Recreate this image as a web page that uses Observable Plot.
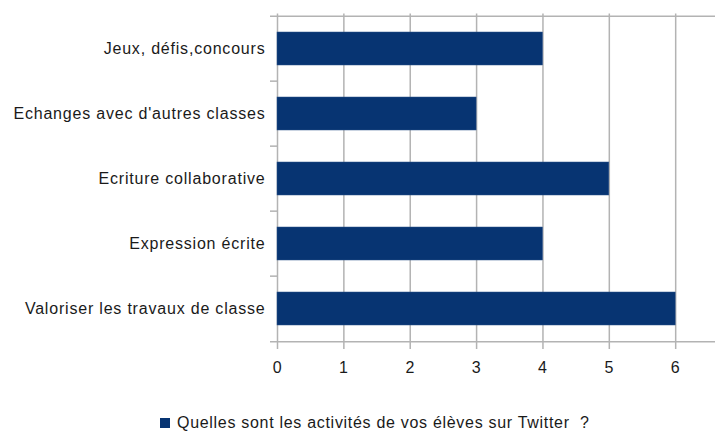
<!DOCTYPE html>
<html>
<head>
<meta charset="utf-8">
<script src="https://cdn.jsdelivr.net/npm/d3@7"></script>
<script src="https://cdn.jsdelivr.net/npm/@observablehq/plot@0.6"></script>
<style>
  html, body { margin: 0; padding: 0; background: #fff; }
  body { width: 715px; height: 434px; overflow: hidden; font-family: "Liberation Sans", Arial, sans-serif; }
  #legend { display: flex; align-items: center; margin-left: 160px; margin-top: 19px; font-size: 16px; line-height: 18px; color: #1a1a1a; letter-spacing: 0.7px; white-space: pre; }
  #legend .sw { width: 10px; height: 10px; background: #073472; margin-right: 7px; }
</style>
</head>
<body>
<div id="chart"></div>
<div id="legend"><span class="sw"></span><span id="legtext"></span></div>
<script>
const categories = ["Jeux, défis,concours", "Echanges avec d'autres classes", "Ecriture collaborative", "Expression écrite", "Valoriser les travaux de classe"];
const values = [4, 3, 5, 4, 6];
const xTicks = [0, 1, 2, 3, 4, 5, 6];
const seriesName = "Quelles sont les activités de vos élèves sur Twitter  ?";

const data = categories.map((c, i) => ({category: c, value: values[i]}));

const H = 395, mTop = 13.5, mBottom = 53;
const step = (H - mTop - mBottom) / categories.length;
const gridStyle = {stroke: "#b3b3b3", strokeWidth: 1.5, strokeOpacity: 1};

const plot = Plot.plot({
  width: 715,
  height: H,
  marginLeft: 277,
  marginRight: 0,
  marginTop: mTop,
  marginBottom: mBottom,
  style: {fontFamily: "Liberation Sans, Arial, sans-serif", fontSize: "16px", color: "#1a1a1a", letterSpacing: "0.8px", background: "#fff"},
  x: {domain: [0, 6.6], label: null},
  y: {domain: categories, paddingInner: 0.5, paddingOuter: 0.25, label: null},
  marks: [
    Plot.ruleX(xTicks, {...gridStyle, insetBottom: -7}),
    Plot.ruleY([categories[0]], {...gridStyle, dy: -step / 2, insetLeft: -7}),
    Plot.ruleY([categories[categories.length - 1]], {...gridStyle, dy: step / 2, insetLeft: -7}),
    Plot.axisY({ticks: categories.slice(1), tickSize: 7, text: null, dy: -step / 2, stroke: "#b3b3b3", strokeWidth: 1.5, label: null}),
    Plot.barX(data, {x: "value", y: "category", fill: "#073472", stroke: "#2a5088", strokeWidth: 0.5}),
    Plot.axisY({tickSize: 0, tickPadding: 12, fontSize: 16, label: null}),
    Plot.axisX({ticks: xTicks, tickSize: 0, tickPadding: 19, fontSize: 16, tickFormat: d => String(d), label: null})
  ]
});
document.getElementById("chart").appendChild(plot);
document.getElementById("legtext").textContent = seriesName;
</script>
</body>
</html>
